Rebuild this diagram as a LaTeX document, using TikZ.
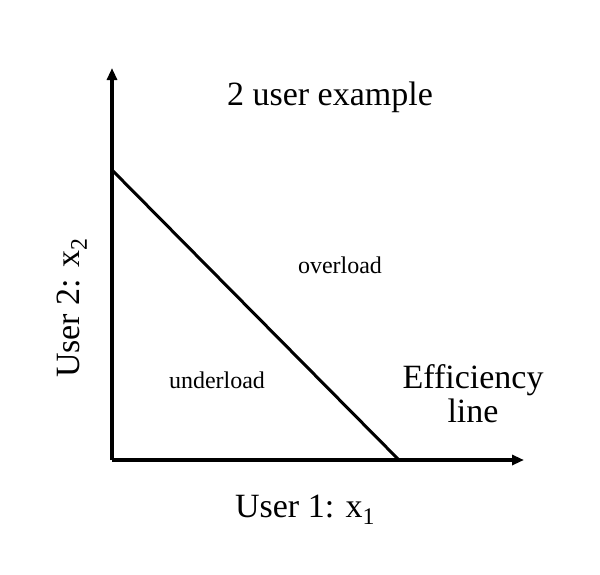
\documentclass[tikz,border=0pt]{standalone}
\usepackage{fontspec}
\setmainfont{Liberation Serif}
\usetikzlibrary{arrows.meta}
\begin{document}
\begin{tikzpicture}[x=1pt,y=-1pt,
  axis/.style={line width=3.4pt,-{Triangle[length=12pt,width=10pt]}},
  big/.style={font=\fontsize{34}{36}\selectfont,inner sep=0pt},
  small/.style={font=\fontsize{24}{28}\selectfont,inner sep=0pt}]
\useasboundingbox (0,0) rectangle (600,574);
\coordinate (O) at (112,460);
\coordinate (ytip) at (112,68);
\coordinate (xtip) at (524,460);
\coordinate (A) at (112,170);
\coordinate (B) at (399,460);
\draw[axis] (O) -- (ytip);
\draw[axis] (O) -- (xtip);
\draw[line width=3pt] (A) -- (B);
\node[big] (title) at (330,97) {2 user example};
\node[small] (over) at (340,265) {overload};
\node[small] (under) at (217,380) {underload};
\node[big,align=center,font=\fontsize{34}{34}\selectfont] (eff) at (473,394) {Efficiency\\line};
\node[big] (xl) at (305,510) {User 1: x\textsubscript{1}};
\node[big,rotate=90] (yl) at (72,308) {User 2: x\textsubscript{2}};
\end{tikzpicture}
\end{document}
